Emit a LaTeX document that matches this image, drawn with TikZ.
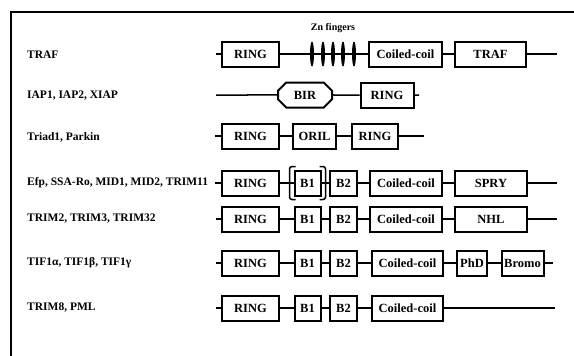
\documentclass[tikz,border=0pt]{standalone}
\usepackage{fontspec}
\setmainfont{Liberation Serif}
\usepackage{tikz}
\usetikzlibrary{positioning, shapes.misc}

\begin{document}
\begin{tikzpicture}[x=1pt, y=-1pt,
    dom/.style={draw, line width=2pt, minimum height=25pt, inner sep=1pt,
                font=\fontsize{12.5}{13}\selectfont\bfseries},
    link/.style={line width=1.5pt},
    fam/.style={anchor=west, inner sep=0pt,
                font=\fontsize{11.5}{12}\selectfont\bfseries}]
  \useasboundingbox (0,0) rectangle (574,356);
  \draw[line width=2.2pt] (574,12) -- (11,12) -- (11,356);

  % TRAF
  \node[fam] (ltraf) at (27,55) {TRAF};
  \coordinate (traf0) at (216,54);
  \node[dom, minimum width=57pt] (traf1) at (250.5,54) {RING};
  \node[minimum width=48pt, minimum height=25pt, inner sep=0pt] (traf2) at (333,54) {};
  \node[dom, minimum width=73pt] (traf3) at (405.5,54) {Coiled-coil};
  \node[dom, minimum width=71pt] (traf4) at (490.5,54) {TRAF};
  \coordinate (traf5) at (557,54);
  \draw[link] (traf0) -- (traf1) -- (traf3) -- (traf4) -- (traf5);
  \foreach \xb in {312,323,333,343,354}
    \fill (\xb,54) ellipse (2pt and 12.5pt);
  \node[font=\fontsize{10}{11}\selectfont\bfseries, above=5pt of traf2] (zn) {Zn fingers};

  % IAP
  \node[fam] (liap) at (27,96) {IAP1, IAP2, XIAP};
  \coordinate (iap0) at (216,95);
  \node[dom, chamfered rectangle, chamfered rectangle xsep=6pt,
        minimum width=54pt] (iap1) at (305,95) {BIR};
  \node[dom, minimum width=53pt] (iap2) at (387,95) {RING};
  \coordinate (iap3) at (419,95);
  \draw[link] (iap0) -- (iap1) -- (iap2) -- (iap3);

  % Triad1, Parkin
  \node[fam] (ltriad) at (27,137) {Triad1, Parkin};
  \coordinate (triad0) at (215,136);
  \node[dom, minimum width=57pt] (triad1) at (250.5,136) {RING};
  \node[dom, minimum width=43pt] (triad2) at (314.5,136) {ORIL};
  \node[dom, minimum width=46pt] (triad3) at (375,136) {RING};
  \coordinate (triad4) at (424,136);
  \draw[link] (triad0) -- (triad1) -- (triad2) -- (triad3) -- (triad4);

  % Efp
  \node[fam] (lefp) at (27,183) {Efp, SSA-Ro, MID1, MID2, TRIM11};
  \coordinate (efp0) at (215,183);
  \node[dom, minimum width=57pt] (efp1) at (250.5,183) {RING};
  \node[dom, minimum width=26pt] (efp2) at (307.5,183) {B1};
  \node[dom, minimum width=27pt] (efp3) at (343.5,183) {B2};
  \node[dom, minimum width=72pt] (efp4) at (406,183) {Coiled-coil};
  \node[dom, minimum width=72pt] (efp5) at (491,183) {SPRY};
  \coordinate (efp6) at (557,183);
  \draw[link] (efp0) -- (efp1) -- (efp2) -- (efp3) -- (efp4) -- (efp5) -- (efp6);
  \draw[link, rounded corners=2.5pt]
    ([xshift=2pt,yshift=3pt]efp2.north west) -| ([xshift=-4pt]efp2.west)
    |- ([xshift=2pt,yshift=-3pt]efp2.south west);
  \draw[link, rounded corners=2.5pt]
    ([xshift=-2pt,yshift=3pt]efp2.north east) -| ([xshift=4pt]efp2.east)
    |- ([xshift=-2pt,yshift=-3pt]efp2.south east);

  % TRIM2
  \node[fam] (ltrim) at (27,219) {TRIM2, TRIM3, TRIM32};
  \coordinate (trim0) at (216,219);
  \node[dom, minimum width=57pt] (trim1) at (250.5,219) {RING};
  \node[dom, minimum width=26pt] (trim2) at (307.5,219) {B1};
  \node[dom, minimum width=27pt] (trim3) at (343.5,219) {B2};
  \node[dom, minimum width=72pt] (trim4) at (406,219) {Coiled-coil};
  \node[dom, minimum width=72pt] (trim5) at (491,219) {NHL};
  \coordinate (trim6) at (557,219);
  \draw[link] (trim0) -- (trim1) -- (trim2) -- (trim3) -- (trim4) -- (trim5) -- (trim6);

  % TIF1
  \node[fam] (ltif) at (27,263) {TIF1α, TIF1β, TIF1γ};
  \coordinate (tif0) at (216,263);
  \node[dom, minimum width=57pt] (tif1) at (250.5,263) {RING};
  \node[dom, minimum width=26pt] (tif2) at (307.5,263) {B1};
  \node[dom, minimum width=27pt] (tif3) at (343.5,263) {B2};
  \node[dom, minimum width=71pt] (tif4) at (407.5,263) {Coiled-coil};
  \node[dom, minimum width=30pt] (tif5) at (472,263) {PhD};
  \node[dom, minimum width=42pt] (tif6) at (522.5,263) {Bromo};
  \coordinate (tif7) at (553,263);
  \draw[link] (tif0) -- (tif1) -- (tif2) -- (tif3) -- (tif4) -- (tif5) -- (tif6) -- (tif7);

  % TRIM8, PML
  \node[fam] (lpml) at (27,308) {TRIM8, PML};
  \coordinate (pml0) at (216,308);
  \node[dom, minimum width=57pt] (pml1) at (250.5,308) {RING};
  \node[dom, minimum width=26pt] (pml2) at (307.5,308) {B1};
  \node[dom, minimum width=27pt] (pml3) at (343.5,308) {B2};
  \node[dom, minimum width=71pt] (pml4) at (407.5,308) {Coiled-coil};
  \coordinate (pml5) at (555,308);
  \draw[link] (pml0) -- (pml1) -- (pml2) -- (pml3) -- (pml4) -- (pml5);
\end{tikzpicture}
\end{document}
